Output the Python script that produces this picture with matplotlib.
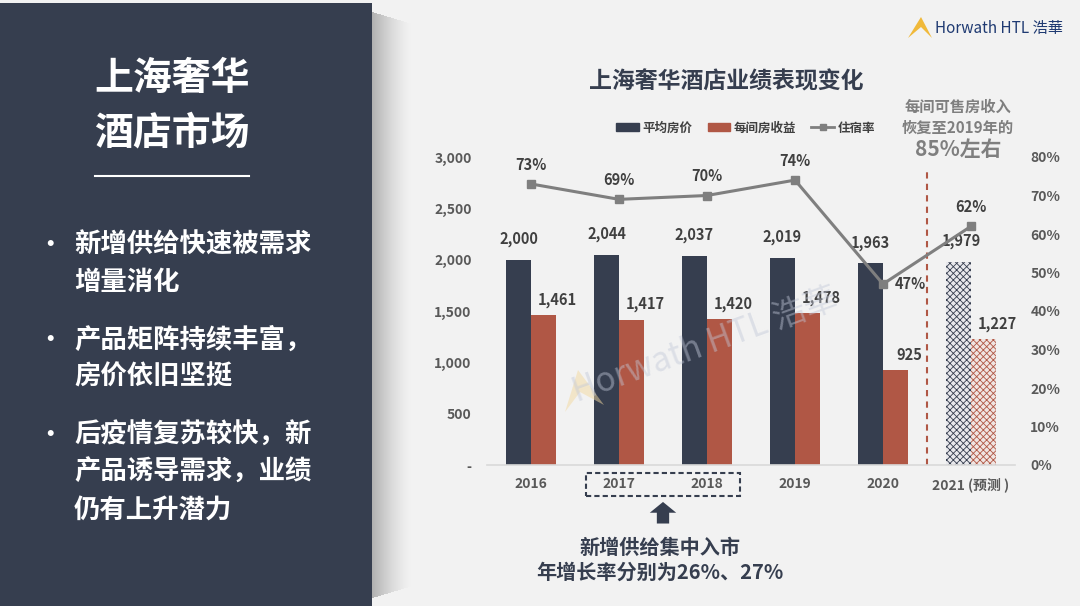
import numpy as np
import matplotlib
matplotlib.use("Agg")
import matplotlib.pyplot as plt
from matplotlib.patches import Rectangle, Polygon, Patch
from matplotlib.lines import Line2D
import matplotlib.transforms as mtrans

plt.rcParams['font.family'] = ['Noto Sans CJK SC', 'DejaVu Sans']
plt.rcParams['hatch.linewidth'] = 0.6

# data
years = ['2016', '2017', '2018', '2019', '2020', '2021 (预测 )']
adr = [2000, 2044, 2037, 2019, 1963, 1979]        # 平均房价
revpar = [1461, 1417, 1420, 1478, 925, 1227]      # 每间房收益
occ = [0.73, 0.69, 0.70, 0.74, 0.47, 0.62]        # 住宿率
occ_labels = ['73%', '69%', '70%', '74%', '47%', '62%']

yticks = [0, 500, 1000, 1500, 2000, 2500, 3000]
ytick_labels = ['-', '500', '1,000', '1,500', '2,000', '2,500', '3,000']
rticks = [0, .1, .2, .3, .4, .5, .6, .7, .8]

bullets = [['新增供给快速被需求', '增量消化'],
           ['产品矩阵持续丰富，', '房价依旧坚挺'],
           ['后疫情复苏较快，新', '产品诱导需求，业绩', '仍有上升潜力']]

NAVY = '#363e4f'
RED = '#b05745'
GRAY = '#7f7f7f'
TXT = '#404040'
TICK = '#595959'
BG = '#f2f2f2'

W, H = 1080, 606
fig = plt.figure(figsize=(10.8, 6.06), dpi=100, facecolor=BG)

def fx(px):
    return px / W

def fy(py):
    return 1 - py / H

# left panel + shadow
for k in range(40):
    a = 0.09 * (1 - k / 40) ** 1.5
    fig.patches.append(Rectangle((fx(372 + k), fy(598 - k * 0.3)), fx(1), fy(12 + k * 0.3) - fy(598 - k * 0.3),
                                 transform=fig.transFigure, color='black', alpha=a * 3, lw=0, zorder=0))
fig.patches.append(Rectangle((0, 0), fx(372), fy(3), transform=fig.transFigure, color=NAVY, lw=0, zorder=1))
fig.text(fx(172), fy(78), '上海奢华', color='white', fontsize=28, fontweight='bold', ha='center', va='center')
fig.text(fx(172), fy(133), '酒店市场', color='white', fontsize=28, fontweight='bold', ha='center', va='center')
fig.add_artist(Line2D([fx(95), fx(249)], [fy(176), fy(176)], color='white', lw=1.5))
ys = [245, 340, 435]
for y0, b in zip(ys, bullets):
    fig.text(fx(50), fy(y0), '•', color='white', fontsize=17, fontweight='bold', ha='center', va='center')
    for k, line in enumerate(b):
        fig.text(fx(74), fy(y0 + k * 37.5), line, color='white', fontsize=19, fontweight='bold',
                 ha='left', va='center')

# logo
fig.patches.append(Polygon([[fx(908), fy(38)], [fx(921), fy(17)], [fx(932), fy(38)], [fx(921), fy(27)]],
                           transform=fig.transFigure, color='#f0b93a', lw=0))
fig.text(fx(935), fy(28), 'Horwath HTL 浩華', color='#1f3a72', fontsize=11, ha='left', va='center')

# watermark
fig.text(fx(705), fy(345), 'Horwath HTL 浩華', color='#c2c8d8', alpha=0.45, fontsize=24, style='italic',
         rotation=20, ha='center', va='center')
fig.patches.append(Polygon([[fx(565), fy(412)], [fx(578), fy(370)], [fx(604), fy(405)], [fx(580), fy(392)]],
                           transform=fig.transFigure, color='#f3d9a0', alpha=0.5, lw=0))

# chart
ax = fig.add_axes([fx(487), fy(465), fx(1015) - fx(487), fy(157) - fy(465)])
ax.set_facecolor('none')
x = np.arange(len(years))
bw = 0.284
for i in range(len(years)):
    if i < 5:
        ax.bar(x[i] - bw / 2, adr[i], bw, color=NAVY, zorder=2)
        ax.bar(x[i] + bw / 2, revpar[i], bw, color=RED, zorder=2)
    else:
        ax.bar(x[i] - bw / 2, adr[i], bw, facecolor='#e8e8ec', edgecolor=NAVY, hatch='xxxxx', lw=0, zorder=2)
        ax.bar(x[i] + bw / 2, revpar[i], bw, facecolor='#f0e4e1', edgecolor=RED, hatch='xxxxx', lw=0, zorder=2)
    ax.annotate(f'{adr[i]:,}', (x[i] - bw / 2, adr[i]), xytext=(2 if i == 5 else 0, 15), textcoords='offset points',
                ha='center', va='center', fontsize=10.5, fontweight='bold', color=TXT)
    ax.annotate(f'{revpar[i]:,}', (x[i] + bw / 2, revpar[i]), xytext=(10, 11), textcoords='offset points',
                ha='center', va='center', fontsize=10.5, fontweight='bold', color=TXT)

ax.set_xlim(-0.5, 5.5)
ax.set_ylim(0, 3000)
ax.set_yticks(yticks)
ax.set_yticklabels(ytick_labels)
ax.set_xticks(x)
ax.set_xticklabels(years)
for s in ['top', 'left', 'right']:
    ax.spines[s].set_visible(False)
ax.spines['bottom'].set_color('#d9d9d9')
ax.spines['bottom'].set_linewidth(1.2)
ax.tick_params(axis='both', length=0, labelsize=10, labelcolor=TICK)
ax.tick_params(axis='y', pad=11)
ax.tick_params(axis='x', pad=9)
for t in ax.get_xticklabels() + ax.get_yticklabels():
    t.set_fontweight('bold')

ax.plot([4.5, 4.5], [0, 2870], ls=(0, (3, 2.5)), color=RED, lw=1.5, zorder=1)

ax2 = ax.twinx()
ax2.set_ylim(0, 0.8)
ax2.set_yticks(rticks)
ax2.set_yticklabels([f'{int(round(v * 100))}%' for v in rticks])
for s in ['top', 'left', 'right', 'bottom']:
    ax2.spines[s].set_visible(False)
ax2.tick_params(axis='y', length=0, labelsize=10, labelcolor=TICK, pad=11)
for t in ax2.get_yticklabels():
    t.set_fontweight('bold')
ax2.plot(x, occ, color=GRAY, lw=2.2, marker='s', ms=5.5, zorder=3)
for i in range(len(occ)):
    if i == 4:
        ax2.annotate(occ_labels[i], (x[i], occ[i]), xytext=(20, 0), textcoords='offset points',
                     ha='center', va='center', fontsize=10.5, fontweight='bold', color=TXT)
    else:
        ax2.annotate(occ_labels[i], (x[i], occ[i]), xytext=(0, 14), textcoords='offset points',
                     ha='center', va='center', fontsize=10.5, fontweight='bold', color=TXT)

# legend
handles = [Patch(color=NAVY), Patch(color=RED),
           Line2D([], [], color=GRAY, lw=2, marker='s', ms=4)]
ax.legend(handles, ['平均房价', '每间房收益', '住宿率'], loc='center', bbox_to_anchor=(0.49, 1.094), ncol=3,
          frameon=False, prop={'size': 9, 'weight': 'bold'}, handlelength=1.8, handleheight=0.6,
          columnspacing=1.2, handletextpad=0.3, labelcolor=TXT)

# titles and notes
fig.text(fx(726), fy(82), '上海奢华酒店业绩表现变化', color=NAVY, fontsize=16.5, fontweight='bold',
         ha='center', va='center')
fig.text(fx(958), fy(107), '每间可售房收入', color=GRAY, fontsize=11, fontweight='bold', ha='center', va='center')
fig.text(fx(958), fy(128), '恢复至2019年的', color=GRAY, fontsize=11, fontweight='bold', ha='center', va='center')
fig.text(fx(958), fy(150), '85%左右', color=GRAY, fontsize=15, fontweight='bold', ha='center', va='center')

# dashed box around 2017/2018 and arrow
tr = mtrans.blended_transform_factory(ax.transData, ax.transAxes)
ax.add_patch(Rectangle((0.63, -0.1), 1.74, 0.075, transform=tr, fill=False, edgecolor=NAVY,
                       ls=(0, (2.5, 1.5)), lw=1.5, clip_on=False))
ax.add_patch(Polygon([[1.5, -0.12], [1.65, -0.155], [1.57, -0.155], [1.57, -0.19],
                      [1.43, -0.19], [1.43, -0.155], [1.35, -0.155]], transform=tr, color=NAVY,
                     lw=0, clip_on=False))
fig.text(fx(660), fy(548), '新增供给集中入市', color=NAVY, fontsize=14.5, fontweight='bold', ha='center', va='center')
fig.text(fx(660), fy(572), '年增长率分别为26%、27%', color=NAVY, fontsize=14.5, fontweight='bold',
         ha='center', va='center')

fig.savefig('out.png', dpi=100, facecolor=BG)
